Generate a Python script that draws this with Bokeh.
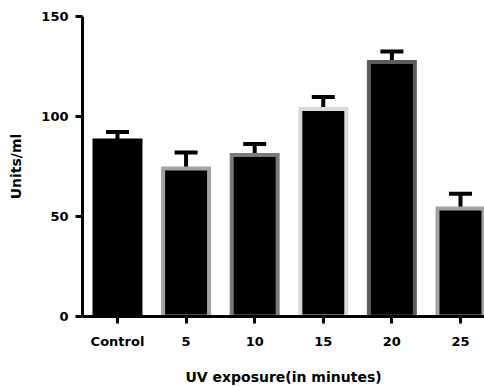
from bokeh.plotting import figure
from bokeh.models import Range1d, FixedTicker, ColumnDataSource, Whisker, TeeHead
from bokeh.embed import file_html
from bokeh.resources import INLINE

categories = ["Control", "5", "10", "15", "20", "25"]
values = [88, 74, 80.7, 103.7, 127.3, 54]
errors = [4.3, 8, 5.6, 6, 5.2, 7.4]
border_colors = ["#000000", "#a3a3a3", "#7a7a7a", "#d9d9d9", "#5c5c5c", "#a3a3a3"]
y_ticks = [0, 50, 100, 150]

xs = list(range(len(categories)))
upper = [v + e for v, e in zip(values, errors)]
src = ColumnDataSource(dict(x=xs, top=values, upper=upper, lc=border_colors))

FONT = "DejaVu Sans"

p = figure(width=484, height=387, output_backend="svg", toolbar_location=None,
           x_range=Range1d(-0.51, 5.35), y_range=Range1d(0, 150),
           min_border_left=82, min_border_right=0, min_border_top=16, min_border_bottom=71)
p.outline_line_color = None
p.xgrid.visible = False
p.ygrid.visible = False
p.background_fill_color = "white"

p.vbar(x="x", top="top", width=0.67, bottom=0, source=src, fill_color="black",
       line_color="lc", line_width=4, line_join="miter")

w = Whisker(base="x", upper="upper", lower="top", source=src, line_width=4, line_color="black",
            upper_head=TeeHead(size=23, line_width=4, line_color="black"), lower_head=None)
p.add_layout(w)

for ax in (p.xaxis[0], p.yaxis[0]):
    ax.axis_line_width = 3
    ax.major_tick_line_width = 3
    ax.major_tick_out = 7
    ax.major_tick_in = 0
    ax.minor_tick_line_color = None
    ax.major_label_text_font = FONT
    ax.major_label_text_font_style = "bold"
    ax.major_label_text_font_size = "13px"
    ax.major_label_text_color = "black"
    ax.axis_label_text_font = FONT
    ax.axis_label_text_font_style = "bold"
    ax.axis_label_text_font_size = "14px"
    ax.axis_label_text_color = "black"

p.xaxis.ticker = FixedTicker(ticks=xs)
p.xaxis.major_label_overrides = {i: c for i, c in zip(xs, categories)}
p.xaxis.major_label_standoff = 10
p.xaxis.axis_label = "UV exposure(in minutes)"
p.xaxis.axis_label_standoff = 17

p.yaxis.ticker = FixedTicker(ticks=y_ticks)
p.yaxis.major_label_standoff = 7
p.yaxis.axis_label = "Units/ml"
p.yaxis.axis_label_standoff = 14

open("out.html", "w").write(file_html(p, INLINE))
